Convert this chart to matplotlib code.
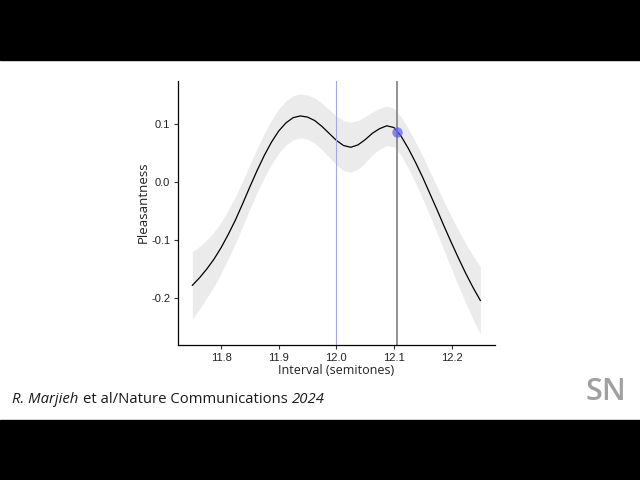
import numpy as np
import matplotlib
matplotlib.use("Agg")
import matplotlib.pyplot as plt
from matplotlib.patches import Rectangle

# interval (semitones) and fitted pleasantness with its confidence band
interval = [11.75, 11.7625, 11.775, 11.7875, 11.80, 11.8125, 11.825, 11.8375,
            11.85, 11.8625, 11.875, 11.8875, 11.90, 11.9125, 11.925, 11.9375,
            11.95, 11.9625, 11.975, 11.9875, 12.00, 12.0125, 12.025, 12.0375,
            12.05, 12.0625, 12.075, 12.0875, 12.10, 12.1125, 12.125, 12.1375,
            12.15, 12.1625, 12.175, 12.1875, 12.20, 12.2125, 12.225, 12.2375,
            12.25]
pleasant = [-0.178, -0.165, -0.150, -0.133, -0.113, -0.090, -0.065, -0.037,
            -0.008, 0.020, 0.046, 0.069, 0.088, 0.102, 0.111, 0.114,
            0.112, 0.106, 0.096, 0.084, 0.072, 0.063, 0.060, 0.064,
            0.073, 0.084, 0.092, 0.097, 0.094, 0.079, 0.058, 0.034,
            0.008, -0.020, -0.048, -0.077, -0.105, -0.132, -0.158, -0.182,
            -0.204]
upper = [-0.120, -0.111, -0.100, -0.086, -0.069, -0.048, -0.025, 0.002,
         0.030, 0.058, 0.084, 0.107, 0.126, 0.140, 0.149, 0.152,
         0.150, 0.145, 0.136, 0.125, 0.114, 0.106, 0.103, 0.106,
         0.113, 0.121, 0.127, 0.131, 0.127, 0.112, 0.092, 0.069,
         0.045, 0.018, -0.008, -0.035, -0.060, -0.084, -0.107, -0.127,
         -0.146]
lower = [-0.236, -0.219, -0.200, -0.180, -0.157, -0.132, -0.105, -0.076,
         -0.046, -0.018, 0.008, 0.031, 0.050, 0.064, 0.073, 0.076,
         0.074, 0.067, 0.056, 0.043, 0.030, 0.020, 0.017, 0.022,
         0.033, 0.047, 0.057, 0.063, 0.061, 0.046, 0.024, -0.001,
         -0.029, -0.058, -0.088, -0.119, -0.150, -0.180, -0.209, -0.237,
         -0.262]

octave = 12.0          # blue reference line
stretched = 12.105     # grey line / marked point
stretched_val = 0.087

xticks = [11.8, 11.9, 12.0, 12.1, 12.2]
yticks = [-0.2, -0.1, 0.0, 0.1]

fig = plt.figure(figsize=(6.4, 4.8), dpi=100)
# black letterbox bars
fig.patches.append(Rectangle((0, 0.875), 1, 0.125, transform=fig.transFigure,
                             color="black", zorder=0))
fig.patches.append(Rectangle((0, 0), 1, 0.125, transform=fig.transFigure,
                             color="black", zorder=0))

ax = fig.add_axes([0.278, 0.281, 0.495, 0.550])
ax.fill_between(interval, lower, upper, color="#ebebeb", lw=0)
ax.plot(interval, pleasant, color="black", lw=0.9, solid_joinstyle="round")
ax.axvline(octave, color="#a8a8e4", lw=0.8)
ax.axvline(stretched, color="#8a8a8a", lw=1.3)
ax.plot([stretched], [stretched_val], "o", ms=7.5, color="#5c5cf0", alpha=0.7,
        mec="none")

ax.set_xlim(11.725, 12.275)
ax.set_ylim(-0.281, 0.174)
ax.set_xticks(xticks)
ax.set_xticklabels([f"{v:.1f}" for v in xticks])
ax.set_yticks(yticks)
ax.set_yticklabels([f"{v:.1f}" for v in yticks])
for s in ["top", "right"]:
    ax.spines[s].set_visible(False)
for s in ["left", "bottom"]:
    ax.spines[s].set_linewidth(0.9)
ax.tick_params(length=3, width=0.8, color="#333333", labelsize=8,
               labelcolor="#222222", pad=2.5)
for lab in ax.get_xticklabels() + ax.get_yticklabels():
    lab.set_family("Liberation Sans")
ax.set_xlabel("Interval (semitones)", family="Open Sans", fontsize=9,
              color="#222222", labelpad=1)
ax.set_ylabel("Pleasantness", family="Open Sans", fontsize=9.5,
              color="#222222")
ax.yaxis.set_label_coords(-0.09, 0.54)

# source caption, mixed italic and upright
cap = dict(family="Open Sans", fontsize=10.7, color="#1a1a1a")
t1 = fig.text(12 / 640, 1 - 407 / 480, "R. Marjieh", style="italic",
              va="bottom", **cap)
t2 = ax.annotate("et al/Nature Communications", xy=(1, 0), xycoords=t1,
                 xytext=(3, 0), textcoords="offset points", va="bottom",
                 ha="left", annotation_clip=False, **cap)
ax.annotate("2024", xy=(1, 0), xycoords=t2, xytext=(3, 0),
            textcoords="offset points", style="italic", va="bottom",
            ha="left", annotation_clip=False, **cap)

fig.text(606 / 640, 1 - 392 / 480, "SN", family="Open Sans", fontsize=22,
         weight="semibold", color="#a0a0a0", ha="center", va="center")

fig.savefig("out.png", dpi=100)
